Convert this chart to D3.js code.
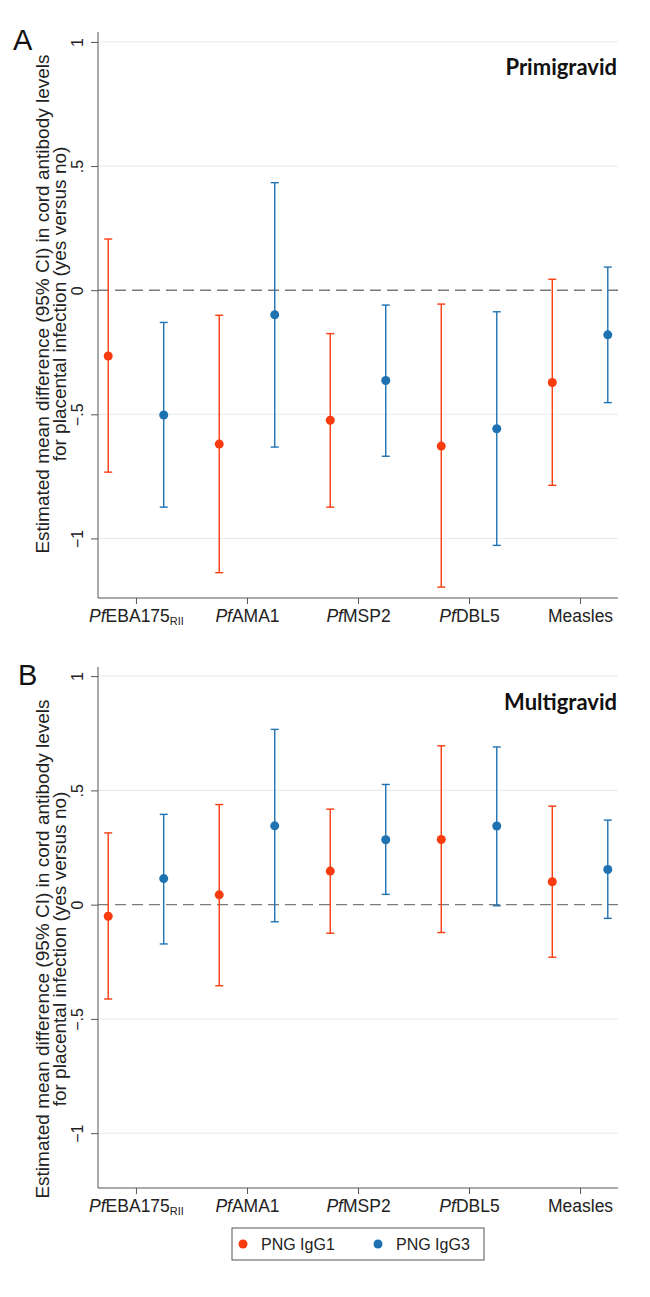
<!DOCTYPE html>
<html>
<head>
<meta charset="utf-8">
<script src="https://cdn.jsdelivr.net/npm/d3@7"></script>
<style>
  body { margin: 0; background: #fff; }
  svg { display: block; font-family: "Liberation Sans", Arial, sans-serif; }
</style>
</head>
<body>
<svg width="650" height="1297"></svg>
<script>
// categories / x labels
var labelPrefix = ["Pf", "Pf", "Pf", "Pf", ""];
var labelMain = ["EBA175", "AMA1", "MSP2", "DBL5", "Measles"];
var labelSub = ["RII", "", "", "", ""];

// y ticks
var yTicks = [-1, -0.5, 0, 0.5, 1];
var yTickLabels = ["\u22121", "\u2212.5", "0", ".5", "1"];

// Primigravid (A)
var primiG1 = [-0.265, -0.620, -0.524, -0.628, -0.372];
var primiG1Lo = [-0.733, -1.138, -0.874, -1.196, -0.786];
var primiG1Hi = [0.206, -0.101, -0.175, -0.056, 0.044];
var primiG3 = [-0.503, -0.099, -0.364, -0.558, -0.180];
var primiG3Lo = [-0.874, -0.632, -0.669, -1.028, -0.453];
var primiG3Hi = [-0.130, 0.433, -0.060, -0.087, 0.093];

// Multigravid (B)
var multiG1 = [-0.051, 0.043, 0.147, 0.285, 0.100];
var multiG1Lo = [-0.413, -0.355, -0.125, -0.122, -0.230];
var multiG1Hi = [0.314, 0.438, 0.418, 0.695, 0.431];
var multiG3 = [0.114, 0.345, 0.284, 0.344, 0.154];
var multiG3Lo = [-0.172, -0.075, 0.045, -0.005, -0.060];
var multiG3Hi = [0.395, 0.767, 0.526, 0.690, 0.370];

var seriesNames = ["PNG IgG1", "PNG IgG3"];
var red = "#f83c10";
var blue = "#1f72b2";

var svg = d3.select("svg");
var left = 98, right = 618;

var xScale = d3.scaleLinear().domain([0.658, 5.342]).range([left, right]);

function drawPanel(letter, title, top, bottom, titleCenter, g1, g1Lo, g1Hi, g3, g3Lo, g3Hi) {
  var yScale = d3.scaleLinear().domain([-1.24, 1.04]).range([bottom, top]);
  var g = svg.append("g");

  // gridlines
  g.selectAll(".grid")
    .data(yTicks.filter((d) => d !== 0))
    .enter()
    .append("line")
    .attr("x1", left)
    .attr("x2", right)
    .attr("y1", (d) => yScale(d))
    .attr("y2", (d) => yScale(d))
    .attr("stroke", "#e3ebef")
    .attr("stroke-width", 1);

  // zero line
  g.append("line")
    .attr("x1", left)
    .attr("x2", right)
    .attr("y1", yScale(0))
    .attr("y2", yScale(0))
    .attr("stroke", "#7a7a7a")
    .attr("stroke-width", 1.4)
    .attr("stroke-dasharray", "11,6");

  // y axis
  var yAxis = g.append("g")
    .attr("transform", "translate(" + left + ",0)")
    .call(d3.axisLeft(yScale).tickValues(yTicks).tickSize(7).tickPadding(9)
      .tickFormat((d, i) => yTickLabels[i]));
  yAxis.select(".domain").attr("stroke", "#555").attr("d", "M0," + top + "V" + bottom);
  yAxis.selectAll(".tick line").attr("stroke", "#555");
  yAxis.selectAll(".tick text")
    .attr("font-size", 16)
    .attr("fill", "#222")
    .attr("font-family", "Liberation Sans, Arial, sans-serif")
    .attr("text-anchor", "middle")
    .attr("dy", 0)
    .attr("x", 0)
    .attr("transform", "translate(-15,0) rotate(-90)");

  // x axis
  var xAxis = g.append("g")
    .attr("transform", "translate(0," + bottom + ")")
    .call(d3.axisBottom(xScale).tickValues([1, 2, 3, 4, 5]).tickSize(6).tickPadding(8)
      .tickFormat(""));
  xAxis.select(".domain").attr("stroke", "#555").attr("d", "M" + left + ",0H" + right);
  xAxis.selectAll(".tick line").attr("stroke", "#555");
  xAxis.selectAll(".tick text").each(function (d) {
    var i = d - 1;
    var t = d3.select(this)
      .attr("font-size", 17.5)
      .attr("fill", "#222")
      .attr("font-family", "Liberation Sans, Arial, sans-serif")
      .attr("dy", 0)
      .attr("y", 24);
    if (labelPrefix[i]) t.append("tspan").attr("font-style", "italic").text(labelPrefix[i]);
    t.append("tspan").text(labelMain[i]);
    if (labelSub[i]) t.append("tspan").attr("font-size", 11).attr("dy", 3).text(labelSub[i]);
  });

  // y title
  var yt = g.append("text")
    .attr("transform", "translate(0," + titleCenter + ") rotate(-90)")
    .attr("text-anchor", "middle")
    .attr("font-size", 19)
    .attr("fill", "#222");
  yt.append("tspan").attr("x", 0).attr("y", 49)
    .text("Estimated mean difference (95% CI) in cord antibody levels");
  yt.append("tspan").attr("x", 0).attr("y", 66)
    .text("for placental infection (yes versus no)");

  // panel letter
  g.append("text")
    .attr("x", letter === "A" ? 13 : 18)
    .attr("y", top + 18)
    .attr("font-size", 29)
    .attr("fill", "#111")
    .text(letter);

  // panel title
  g.append("text")
    .attr("x", right - 1)
    .attr("y", top + 43)
    .attr("text-anchor", "end")
    .attr("font-family", "Lato, 'Open Sans', sans-serif")
    .attr("font-weight", "bold")
    .attr("font-size", 22)
    .attr("fill", "#111")
    .text(title);

  // error bars + points
  var series = [
    { est: g1, lo: g1Lo, hi: g1Hi, off: -0.25, color: red },
    { est: g3, lo: g3Lo, hi: g3Hi, off: 0.25, color: blue }
  ];
  series.forEach(function (s, k) {
    var rows = s.est.map((v, i) => ({ x: i + 1 + s.off, est: v, lo: s.lo[i], hi: s.hi[i] }));
    var eg = g.append("g").attr("stroke", s.color).attr("stroke-width", 1.4);
    eg.selectAll(".ci")
      .data(rows)
      .enter()
      .append("line")
      .attr("x1", (d) => xScale(d.x))
      .attr("x2", (d) => xScale(d.x))
      .attr("y1", (d) => yScale(d.lo))
      .attr("y2", (d) => yScale(d.hi));
    eg.selectAll(".caphi")
      .data(rows)
      .enter()
      .append("line")
      .attr("x1", (d) => xScale(d.x) - 4)
      .attr("x2", (d) => xScale(d.x) + 4)
      .attr("y1", (d) => yScale(d.hi))
      .attr("y2", (d) => yScale(d.hi));
    eg.selectAll(".caplo")
      .data(rows)
      .enter()
      .append("line")
      .attr("x1", (d) => xScale(d.x) - 4)
      .attr("x2", (d) => xScale(d.x) + 4)
      .attr("y1", (d) => yScale(d.lo))
      .attr("y2", (d) => yScale(d.lo));
    g.selectAll(".pt" + k)
      .data(rows)
      .enter()
      .append("circle")
      .attr("class", "pt" + k)
      .attr("cx", (d) => xScale(d.x))
      .attr("cy", (d) => yScale(d.est))
      .attr("r", 4.5)
      .attr("fill", s.color);
  });
}

drawPanel("A", "Primigravid", 32, 598, 304, primiG1, primiG1Lo, primiG1Hi, primiG3, primiG3Lo, primiG3Hi);
drawPanel("B", "Multigravid", 667, 1188, 949, multiG1, multiG1Lo, multiG1Hi, multiG3, multiG3Lo, multiG3Hi);

// legend
var legend = svg.append("g");
legend.append("rect")
  .attr("x", 232).attr("y", 1228)
  .attr("width", 252).attr("height", 32)
  .attr("fill", "#fff").attr("stroke", "#555").attr("stroke-width", 1);
var legendX = [243, 378];
[red, blue].forEach(function (c, i) {
  legend.append("circle").attr("cx", legendX[i]).attr("cy", 1244).attr("r", 4.5).attr("fill", c);
  legend.append("text")
    .attr("x", legendX[i] + 18).attr("y", 1250)
    .attr("font-size", 16).attr("fill", "#222")
    .text(seriesNames[i]);
});
</script>
</body>
</html>
